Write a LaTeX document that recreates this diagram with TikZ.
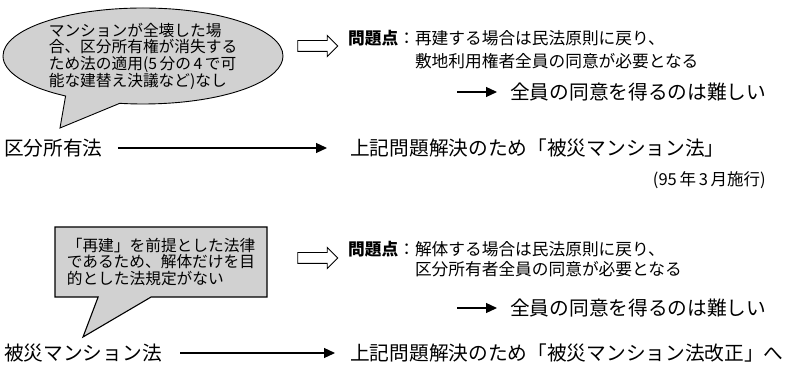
\documentclass[tikz,border=0pt]{standalone}
\usepackage{fontspec}
\setmainfont{Noto Sans CJK JP}
\usetikzlibrary{positioning,shapes.callouts,shapes.arrows,arrows.meta}
\tikzset{
  bubble/.style={draw, line width=0.9pt, fill=black!18, inner sep=0pt, align=left,
    font=\fontsize{15.7}{16.7}\selectfont},
  hollow/.style={single arrow, draw, line width=0.9pt, minimum height=40, inner sep=5,
    single arrow head extend=5, single arrow head indent=0},
  bigtext/.style={inner sep=0pt, anchor=west, font=\fontsize{19.7}{22}\selectfont},
  issuetext/.style={inner sep=0pt, anchor=west},
  lawarrow/.style={-{Triangle[length=11pt,width=10pt]}, line width=1.2pt}
}
\begin{document}
\begin{tikzpicture}[x=1pt,y=-1pt]
\useasboundingbox (0,0) rectangle (800,371);
\coordinate (tip1) at (60,128);
\node[bubble, ellipse callout, minimum width=280, minimum height=96,
  callout absolute pointer={(tip1)}, callout pointer arc=24] (callout1) at (143,56)
  {マンションが全壊した場\\合、区分所有権が消失する\\ため法の適用(5\,分の\,4\,で可\\能な建替え決議など)なし};
\node[hollow] (hollow1) at (315,46) {};
\node[issuetext] (issue1) at (348,51.5) {\fontsize{16.7}{23}\selectfont
  \begin{tabular}{@{}l@{}l@{}}\textbf{問題点}：&再建する場合は民法原則に戻り、\\&敷地利用権者全員の同意が必要となる\end{tabular}};
\coordinate (from1) at (457,92);
\node[bigtext] (hard1) at (510,92) {全員の同意を得るのは難しい};
\draw[lawarrow] (from1) -- ([xshift=-13pt]hard1.west);
\node[bigtext] (law1) at (4,148) {区分所有法};
\node[bigtext] (fix1) at (350,148) {上記問題解決のため「被災マンション法」};
\draw[lawarrow, shorten <=15pt, shorten >=23pt] (law1.east) -- (fix1.west);
\node[inner sep=0pt, anchor=east, font=\fontsize{16.5}{18}\selectfont] (date1) at (766,180) {(95\,年\,3\,月施行)};
\coordinate (tip2) at (83,337);
\node[bubble, rectangle callout, line width=1.1pt, minimum width=212, minimum height=70,
  callout absolute pointer={(tip2)}, callout pointer width=53] (callout2) at (161,262)
  {「再建」を前提とした法律\\であるため、解体だけを目\\的とした法規定がない};
\node[hollow] (hollow2) at (315,258) {};
\node[issuetext] (issue2) at (348,261) {\fontsize{16.7}{18}\selectfont
  \begin{tabular}{@{}l@{}l@{}}\textbf{問題点}：&解体する場合は民法原則に戻り、\\&区分所有者全員の同意が必要となる\end{tabular}};
\coordinate (from2) at (457,308);
\node[bigtext] (hard2) at (510,308) {全員の同意を得るのは難しい};
\draw[lawarrow] (from2) -- ([xshift=-13pt]hard2.west);
\node[bigtext] (law2) at (4,353) {被災マンション法};
\node[bigtext] (fix2) at (350,353) {上記問題解決のため「被災マンション法改正」へ};
\draw[lawarrow, shorten <=18pt, shorten >=15pt] (law2.east) -- (fix2.west);
\end{tikzpicture}
\end{document}
